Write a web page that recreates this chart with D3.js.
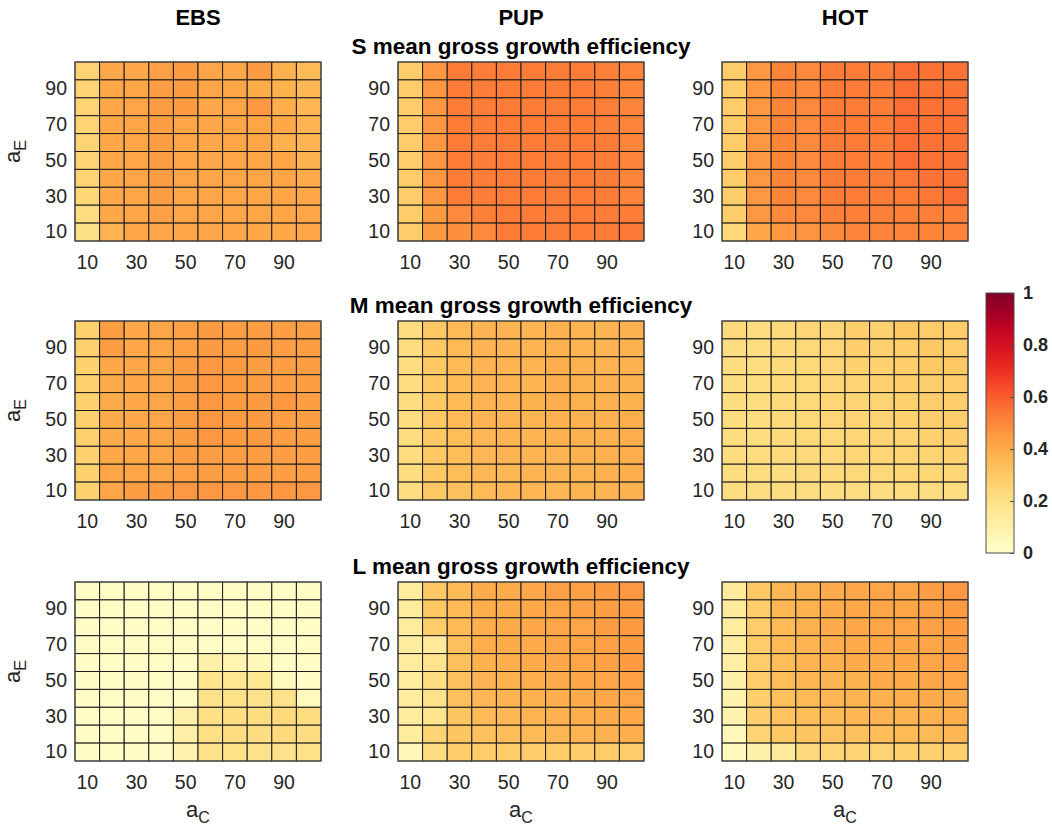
<!DOCTYPE html>
<html>
<head>
<meta charset="utf-8">
<script src="https://cdn.jsdelivr.net/npm/d3@7"></script>
<style>
  html, body { margin: 0; padding: 0; background: #fff; }
  svg { display: block; font-family: "Liberation Sans", Arial, Helvetica, sans-serif; }
</style>
</head>
<body>
<svg id="chart" width="1052" height="831"></svg>
<script>
// Grid coordinates
const aC = [10, 20, 30, 40, 50, 60, 70, 80, 90, 100];
const aE = [10, 20, 30, 40, 50, 60, 70, 80, 90, 100];
const tickLabels = [10, 30, 50, 70, 90];
const models = ["EBS", "PUP", "HOT"];
const sizeClasses = ["S", "M", "L"];
const colorTicks = [0, 0.2, 0.4, 0.6, 0.8, 1];

// Mean gross growth efficiency; each matrix lists rows from a_E = 100 (top) down to a_E = 10,
// columns from a_C = 10 to a_C = 100.
const S_EBS = [
  [0.26,0.41,0.41,0.43,0.45,0.42,0.41,0.45,0.38,0.35],
  [0.26,0.41,0.42,0.44,0.45,0.42,0.42,0.40,0.38,0.36],
  [0.26,0.41,0.42,0.44,0.45,0.41,0.42,0.46,0.39,0.36],
  [0.26,0.41,0.42,0.44,0.42,0.41,0.42,0.42,0.41,0.37],
  [0.26,0.41,0.42,0.44,0.42,0.41,0.42,0.42,0.38,0.37],
  [0.26,0.41,0.42,0.44,0.42,0.41,0.42,0.42,0.42,0.38],
  [0.26,0.41,0.42,0.44,0.42,0.42,0.42,0.42,0.42,0.40],
  [0.25,0.41,0.42,0.44,0.42,0.42,0.42,0.42,0.42,0.41],
  [0.22,0.41,0.42,0.43,0.42,0.42,0.42,0.42,0.42,0.42],
  [0.20,0.37,0.42,0.42,0.41,0.41,0.41,0.41,0.41,0.41]
];
const S_PUP = [
  [0.29,0.46,0.53,0.53,0.53,0.53,0.53,0.53,0.52,0.51],
  [0.29,0.46,0.53,0.53,0.53,0.53,0.53,0.53,0.52,0.51],
  [0.29,0.46,0.53,0.53,0.53,0.53,0.53,0.53,0.52,0.51],
  [0.29,0.46,0.53,0.53,0.53,0.53,0.53,0.53,0.52,0.51],
  [0.29,0.46,0.53,0.53,0.53,0.53,0.53,0.53,0.53,0.51],
  [0.29,0.46,0.53,0.53,0.53,0.53,0.53,0.53,0.53,0.51],
  [0.29,0.46,0.53,0.53,0.53,0.53,0.53,0.53,0.53,0.51],
  [0.29,0.46,0.53,0.53,0.53,0.53,0.53,0.53,0.53,0.51],
  [0.29,0.45,0.50,0.52,0.53,0.53,0.53,0.53,0.53,0.53],
  [0.29,0.45,0.48,0.50,0.53,0.53,0.53,0.53,0.53,0.54]
];
const S_HOT = [
  [0.29,0.46,0.51,0.50,0.53,0.53,0.53,0.56,0.55,0.55],
  [0.29,0.46,0.51,0.50,0.53,0.53,0.53,0.56,0.55,0.55],
  [0.29,0.46,0.51,0.50,0.53,0.53,0.53,0.56,0.55,0.55],
  [0.29,0.46,0.51,0.50,0.53,0.53,0.53,0.56,0.55,0.55],
  [0.29,0.46,0.51,0.50,0.53,0.53,0.53,0.56,0.55,0.55],
  [0.29,0.46,0.51,0.50,0.53,0.53,0.53,0.56,0.55,0.55],
  [0.29,0.46,0.51,0.50,0.53,0.53,0.53,0.54,0.55,0.55],
  [0.29,0.46,0.51,0.50,0.53,0.53,0.53,0.53,0.54,0.56],
  [0.29,0.46,0.50,0.50,0.52,0.52,0.52,0.52,0.52,0.52],
  [0.24,0.41,0.46,0.47,0.50,0.51,0.51,0.51,0.51,0.51]
];
const M_EBS = [
  [0.27,0.44,0.41,0.42,0.43,0.45,0.44,0.44,0.44,0.44],
  [0.27,0.44,0.41,0.42,0.43,0.45,0.44,0.45,0.44,0.44],
  [0.27,0.41,0.41,0.42,0.44,0.46,0.45,0.44,0.44,0.44],
  [0.27,0.40,0.41,0.42,0.44,0.46,0.45,0.44,0.44,0.44],
  [0.27,0.40,0.41,0.42,0.44,0.46,0.45,0.45,0.46,0.44],
  [0.27,0.40,0.41,0.42,0.44,0.46,0.45,0.45,0.44,0.44],
  [0.27,0.40,0.41,0.42,0.44,0.46,0.45,0.45,0.44,0.44],
  [0.27,0.41,0.41,0.42,0.44,0.44,0.44,0.44,0.44,0.44],
  [0.27,0.42,0.42,0.42,0.43,0.44,0.44,0.44,0.44,0.44],
  [0.27,0.42,0.44,0.45,0.46,0.46,0.46,0.46,0.46,0.46]
];
const M_PUP = [
  [0.22,0.30,0.35,0.37,0.37,0.37,0.38,0.37,0.37,0.38],
  [0.22,0.30,0.35,0.37,0.37,0.37,0.38,0.37,0.37,0.38],
  [0.22,0.30,0.35,0.37,0.37,0.37,0.39,0.38,0.37,0.38],
  [0.22,0.30,0.35,0.37,0.37,0.37,0.39,0.38,0.38,0.38],
  [0.22,0.30,0.35,0.37,0.37,0.38,0.39,0.38,0.38,0.38],
  [0.22,0.30,0.35,0.37,0.37,0.37,0.38,0.38,0.38,0.39],
  [0.22,0.30,0.34,0.36,0.37,0.37,0.38,0.38,0.38,0.39],
  [0.22,0.30,0.34,0.36,0.37,0.37,0.37,0.38,0.38,0.39],
  [0.22,0.30,0.34,0.36,0.36,0.37,0.37,0.37,0.38,0.39],
  [0.22,0.30,0.33,0.35,0.36,0.36,0.36,0.37,0.37,0.38]
];
const M_HOT = [
  [0.23,0.22,0.23,0.25,0.25,0.28,0.27,0.30,0.29,0.29],
  [0.22,0.22,0.23,0.24,0.25,0.28,0.27,0.28,0.30,0.29],
  [0.22,0.22,0.23,0.24,0.25,0.27,0.27,0.28,0.30,0.30],
  [0.22,0.22,0.23,0.24,0.25,0.26,0.27,0.28,0.28,0.29],
  [0.22,0.22,0.23,0.24,0.25,0.26,0.26,0.27,0.28,0.28],
  [0.22,0.22,0.23,0.24,0.25,0.26,0.26,0.27,0.28,0.28],
  [0.22,0.22,0.23,0.24,0.24,0.25,0.26,0.26,0.27,0.28],
  [0.22,0.22,0.23,0.23,0.24,0.25,0.25,0.26,0.26,0.27],
  [0.22,0.22,0.22,0.23,0.23,0.24,0.24,0.25,0.25,0.25],
  [0.22,0.22,0.22,0.22,0.22,0.22,0.22,0.22,0.22,0.22]
];
const L_EBS = [
  [0.02,0.02,0.02,0.02,0.02,0.02,0.02,0.02,0.02,0.02],
  [0.02,0.02,0.02,0.02,0.02,0.02,0.02,0.02,0.02,0.02],
  [0.02,0.02,0.02,0.02,0.02,0.02,0.02,0.02,0.02,0.02],
  [0.02,0.02,0.02,0.02,0.02,0.02,0.02,0.02,0.02,0.02],
  [0.02,0.02,0.02,0.02,0.02,0.10,0.07,0.05,0.02,0.02],
  [0.02,0.02,0.02,0.02,0.02,0.18,0.17,0.17,0.04,0.02],
  [0.02,0.02,0.02,0.02,0.02,0.19,0.19,0.19,0.19,0.04],
  [0.02,0.02,0.02,0.02,0.10,0.20,0.21,0.22,0.23,0.22],
  [0.02,0.02,0.02,0.02,0.11,0.20,0.21,0.21,0.23,0.21],
  [0.02,0.02,0.02,0.02,0.08,0.19,0.19,0.19,0.19,0.19]
];
const L_PUP = [
  [0.13,0.30,0.35,0.40,0.40,0.41,0.43,0.43,0.45,0.46],
  [0.13,0.30,0.35,0.39,0.40,0.41,0.42,0.43,0.44,0.45],
  [0.13,0.29,0.35,0.39,0.40,0.41,0.42,0.42,0.44,0.45],
  [0.13,0.14,0.33,0.39,0.40,0.40,0.42,0.42,0.43,0.45],
  [0.13,0.18,0.33,0.38,0.39,0.40,0.41,0.42,0.43,0.45],
  [0.13,0.21,0.33,0.37,0.38,0.39,0.40,0.41,0.42,0.43],
  [0.13,0.19,0.33,0.36,0.37,0.38,0.39,0.40,0.41,0.42],
  [0.13,0.18,0.31,0.35,0.36,0.37,0.38,0.39,0.40,0.41],
  [0.13,0.26,0.31,0.33,0.34,0.35,0.36,0.37,0.38,0.39],
  [0.06,0.22,0.28,0.29,0.29,0.29,0.29,0.29,0.29,0.29]
];
const L_HOT = [
  [0.14,0.30,0.36,0.38,0.40,0.41,0.42,0.42,0.44,0.46],
  [0.14,0.29,0.36,0.38,0.40,0.41,0.42,0.42,0.43,0.45],
  [0.13,0.29,0.35,0.38,0.40,0.41,0.42,0.42,0.43,0.45],
  [0.12,0.29,0.35,0.37,0.39,0.40,0.41,0.41,0.42,0.44],
  [0.11,0.29,0.34,0.37,0.38,0.40,0.40,0.41,0.42,0.43],
  [0.10,0.29,0.34,0.36,0.37,0.38,0.40,0.40,0.41,0.42],
  [0.09,0.28,0.33,0.35,0.36,0.37,0.38,0.39,0.40,0.40],
  [0.08,0.28,0.32,0.34,0.35,0.36,0.37,0.37,0.38,0.39],
  [0.06,0.26,0.30,0.31,0.32,0.33,0.34,0.35,0.35,0.36],
  [0.04,0.10,0.14,0.23,0.25,0.26,0.26,0.27,0.27,0.27]
];

const grids = [
  [S_EBS, S_PUP, S_HOT],
  [M_EBS, M_PUP, M_HOT],
  [L_EBS, L_PUP, L_HOT]
];

// Layout
const panelW = 246, panelH = 179;
const colX = [75, 398, 722];
const rowY = [62, 321, 582];
const textGray = "#262626";

const svg = d3.select("#chart");
const color = d3.scaleSequential(d3.interpolateYlOrRd).domain([0, 1]);

const x = d3.scaleBand().domain(aC).range([0, panelW]).padding(0);
const y = d3.scaleBand().domain(aE.slice().reverse()).range([0, panelH]).padding(0);

grids.forEach((row, r) => {
  row.forEach((grid, c) => {
    const g = svg.append("g").attr("transform", `translate(${colX[c]},${rowY[r]})`);
    const topDown = aE.slice().reverse();
    const cells = [];
    grid.forEach((vals, i) => vals.forEach((v, j) => cells.push({ e: topDown[i], c: aC[j], v })));

    g.selectAll("rect.cell").data(cells).join("rect")
      .attr("class", "cell")
      .attr("x", d => x(d.c))
      .attr("y", d => y(d.e))
      .attr("width", x.bandwidth())
      .attr("height", y.bandwidth())
      .attr("fill", d => color(d.v))
      .attr("stroke", "#1c1c1c")
      .attr("stroke-width", 1);

    g.append("rect")
      .attr("width", panelW).attr("height", panelH)
      .attr("fill", "none").attr("stroke", "#4d4d4d").attr("stroke-width", 1);

    const yAxis = g.append("g")
      .call(d3.axisLeft(y).tickValues(tickLabels).tickSize(0).tickPadding(8));
    const xAxis = g.append("g").attr("transform", `translate(0,${panelH})`)
      .call(d3.axisBottom(x).tickValues(tickLabels).tickSize(0).tickPadding(14));
    [xAxis, yAxis].forEach(a => {
      a.select(".domain").remove();
      a.selectAll("text")
        .attr("fill", textGray)
        .style("font-size", "19.5px")
        .style("font-family", "'Liberation Sans', Arial, sans-serif");
    });

    if (c === 0) {
      const lab = svg.append("text")
        .attr("transform", `translate(${colX[0] - 55},${rowY[r] + panelH / 2}) rotate(-90)`)
        .attr("text-anchor", "middle")
        .attr("fill", textGray)
        .style("font-size", "22px");
      lab.append("tspan").text("a");
      lab.append("tspan").attr("dy", 6).style("font-size", "16px").text("E");
    }
    if (r === 2) {
      const lab = svg.append("text")
        .attr("x", colX[c] + panelW / 2)
        .attr("y", rowY[2] + panelH + 56)
        .attr("text-anchor", "middle")
        .attr("fill", textGray)
        .style("font-size", "22px");
      lab.append("tspan").text("a");
      lab.append("tspan").attr("dy", 6).style("font-size", "16px").text("C");
    }
  });

  svg.append("text")
    .attr("x", colX[1] + panelW / 2)
    .attr("y", rowY[r] - 8)
    .attr("text-anchor", "middle")
    .attr("fill", "#000")
    .style("font-weight", "bold")
    .style("font-size", "22.5px")
    .text(`${sizeClasses[r]} mean gross growth efficiency`);
});

models.forEach((m, c) => {
  svg.append("text")
    .attr("x", colX[c] + panelW / 2)
    .attr("y", 25)
    .attr("text-anchor", "middle")
    .attr("fill", "#000")
    .style("font-weight", "bold")
    .style("font-size", "22px")
    .text(m);
});

// Colorbar
const cbX = 986, cbY = 293, cbW = 28, cbH = 260;
const defs = svg.append("defs");
const grad = defs.append("linearGradient").attr("id", "cbGrad")
  .attr("x1", 0).attr("y1", 1).attr("x2", 0).attr("y2", 0);
d3.range(0, 1.0001, 0.05).forEach(t => {
  grad.append("stop").attr("offset", t).attr("stop-color", color(t));
});
svg.append("rect")
  .attr("x", cbX).attr("y", cbY).attr("width", cbW).attr("height", cbH)
  .attr("fill", "url(#cbGrad)")
  .attr("stroke", "#4d4d4d").attr("stroke-width", 1);

const cbScale = d3.scaleLinear().domain([0, 1]).range([cbY + cbH, cbY]);
const cbAxis = svg.append("g").attr("transform", `translate(${cbX + cbW},0)`)
  .call(d3.axisRight(cbScale).tickValues(colorTicks).tickSize(-4).tickPadding(9)
    .tickFormat(d => d === 0 || d === 1 ? d3.format("d")(d) : d3.format(".1f")(d)));
cbAxis.select(".domain").remove();
cbAxis.selectAll("line").attr("stroke", "#4d4d4d");
cbAxis.selectAll("text")
  .attr("fill", textGray)
  .style("font-size", "18px")
  .style("font-weight", "bold")
  .style("font-family", "'Liberation Sans', Arial, sans-serif");
</script>
</body>
</html>
